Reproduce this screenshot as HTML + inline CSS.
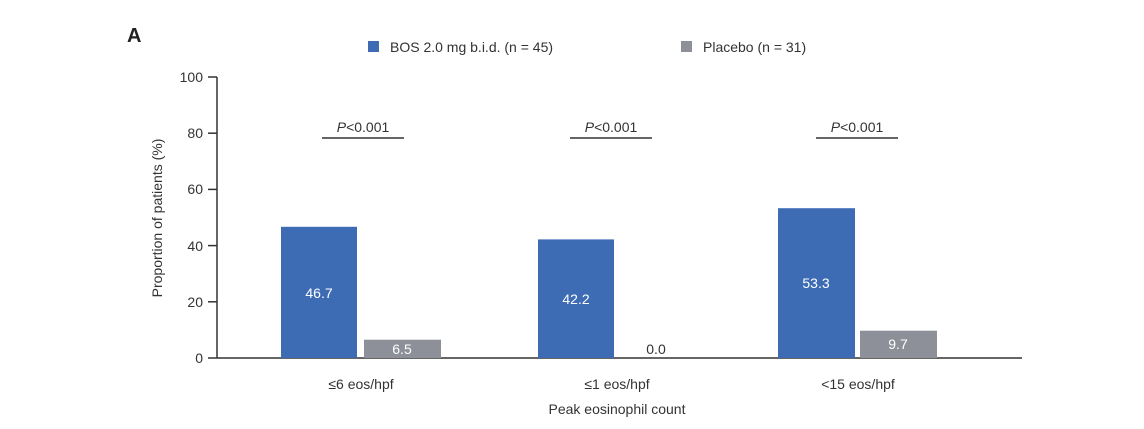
<!DOCTYPE html>
<html><head><meta charset="utf-8"><style>
html,body{margin:0;padding:0;background:#fff;}
svg text{font-family:"Liberation Sans",Arial,sans-serif;}
</style></head><body>
<svg width="1144" height="424" viewBox="0 0 1144 424" xmlns="http://www.w3.org/2000/svg">
<text x="127" y="42" font-size="20" font-weight="bold" fill="#222">A</text>
<rect x="368" y="41" width="11" height="11" fill="#3d6cb5"/>
<text x="390" y="52" font-size="14" fill="#333">BOS 2.0 mg b.i.d. (n = 45)</text>
<rect x="681" y="41" width="11" height="11" fill="#8e9099"/>
<text x="703" y="52" font-size="14" fill="#333">Placebo (n = 31)</text>
<!-- axes -->
<line x1="217" y1="77" x2="217" y2="358" stroke="#333" stroke-width="1.5"/>
<line x1="208" y1="358" x2="1022" y2="358" stroke="#333" stroke-width="1.5"/>
<g stroke="#333" stroke-width="1.5">
<line x1="208" y1="77" x2="217" y2="77"/><line x1="208" y1="133.2" x2="217" y2="133.2"/>
<line x1="208" y1="189.4" x2="217" y2="189.4"/><line x1="208" y1="245.6" x2="217" y2="245.6"/>
<line x1="208" y1="301.8" x2="217" y2="301.8"/>
</g>
<g font-size="14" fill="#333" text-anchor="end">
<text x="203" y="82">100</text><text x="203" y="138">80</text><text x="203" y="194">60</text>
<text x="203" y="251">40</text><text x="203" y="307">20</text><text x="203" y="363">0</text>
</g>
<text transform="translate(162,218) rotate(-90)" font-size="14" fill="#333" text-anchor="middle">Proportion of patients (%)</text>
<!-- bars -->
<rect x="281" y="226.8" width="76" height="131.2" fill="#3d6cb5"/>
<rect x="364" y="339.7" width="77" height="18.3" fill="#8e9099"/>
<rect x="538" y="239.4" width="76" height="118.6" fill="#3d6cb5"/>
<rect x="778" y="208.2" width="77" height="149.8" fill="#3d6cb5"/>
<rect x="860" y="330.7" width="77" height="27.3" fill="#8e9099"/>
<g font-size="14" fill="#fff" text-anchor="middle">
<text x="319" y="298">46.7</text><text x="402" y="354">6.5</text>
<text x="576" y="304">42.2</text><text x="816" y="288">53.3</text><text x="898" y="349">9.7</text>
</g>
<text x="656" y="354" font-size="14" fill="#333" text-anchor="middle">0.0</text>
<!-- P values -->
<g font-size="14" fill="#333" text-anchor="middle">
<text x="363" y="132"><tspan font-style="italic">P</tspan>&lt;0.001</text>
<text x="611" y="132"><tspan font-style="italic">P</tspan>&lt;0.001</text>
<text x="857" y="132"><tspan font-style="italic">P</tspan>&lt;0.001</text>
</g>
<g stroke="#333" stroke-width="1.5">
<line x1="322" y1="138" x2="404" y2="138"/>
<line x1="570" y1="138" x2="652" y2="138"/>
<line x1="816" y1="138" x2="898" y2="138"/>
</g>
<g font-size="14" fill="#333" text-anchor="middle">
<text x="361" y="389">≤6 eos/hpf</text><text x="617" y="389">≤1 eos/hpf</text>
<text x="858" y="389">&lt;15 eos/hpf</text>
<text x="617" y="414">Peak eosinophil count</text>
</g>
</svg>
</body></html>
